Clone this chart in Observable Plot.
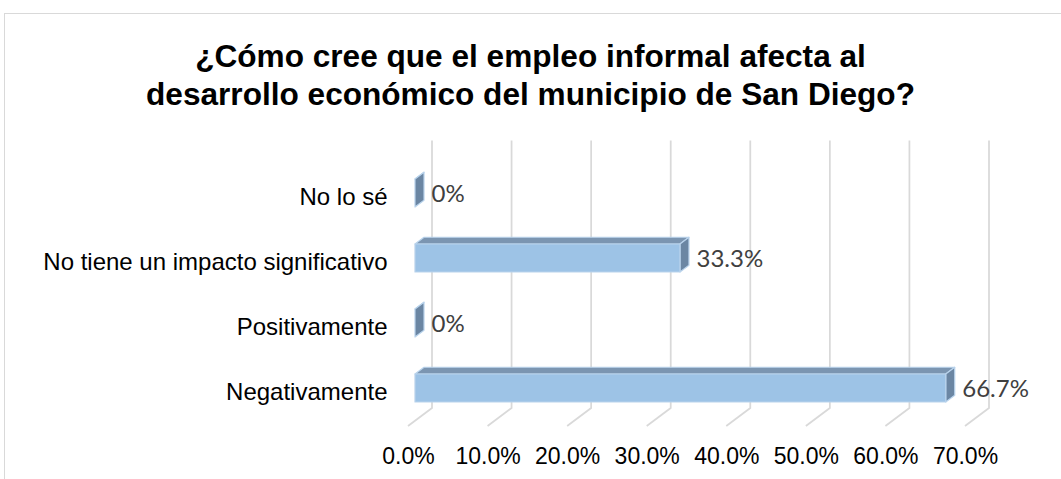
<!DOCTYPE html>
<html><head><meta charset="utf-8">
<script src="https://cdn.jsdelivr.net/npm/d3@7"></script>
<script src="https://cdn.jsdelivr.net/npm/@observablehq/plot@0.6"></script>
<style>
body{margin:0;background:#fff;width:1061px;height:479px;overflow:hidden;position:relative;font-family:"Liberation Sans",Arial,sans-serif}
#frame{position:absolute;left:4px;top:13px;width:1100px;height:500px;border-left:1.5px solid #d9d9d9;border-top:1.5px solid #d9d9d9}
#title{position:absolute;left:0;top:37px;width:1061px;text-align:center;font-weight:bold;font-size:31.6px;line-height:38px;color:#000}
#chart{position:absolute;left:0;top:120px}
</style></head><body>
<div id="frame"></div>
<div id="title">¿Cómo cree que el empleo informal afecta al<br>desarrollo económico del municipio de San Diego?</div>
<div id="chart"></div>
<script>
const categories = ["No lo sé", "No tiene un impacto significativo", "Positivamente", "Negativamente"];
const values = [0, 33.3, 0, 66.7];
const valueLabels = ["0%", "33.3%", "0%", "66.7%"];
const xTicks = [0, 10, 20, 30, 40, 50, 60, 70];
const xTickLabels = ["0.0%", "10.0%", "20.0%", "30.0%", "40.0%", "50.0%", "60.0%", "70.0%"];

const data = categories.map((c, i) => ({category: c, value: values[i], label: valueLabels[i]}));

// 3D styling constants (pixels)
const BAR_DX = 9, BAR_DY = 6.75;      // bar depth
const BACK_DX = 17, BACK_DY = 12.75;  // back wall offset from bar front plane
const FRONT_DX = 7, FRONT_DY = 5.25;  // floor front offset from bar front plane
const FLOOR_GAP = 6;                  // distance from lowest bar bottom to back floor line
const FRONT_FILL = "#9dc3e6", TOP_FILL = "#7b95b1", SIDE_FILL = "#6b86a3", EDGE = "#b9d3ec";
const GRID = "#d9d9d9";

function bandwidthOf(scales) {
  if (typeof scales.y.bandwidth === "number") return scales.y.bandwidth;
  if (typeof scales.y.bandwidth === "function") return scales.y.bandwidth();
  return scales.scales.y.bandwidth;
}

const grid = Plot.ruleX(xTicks, {
  x: d => d,
  render: (I, scales, values, dims) => {
    const g = d3.create("svg:g").attr("fill", "none").attr("stroke", GRID).attr("stroke-width", 1.75);
    const bw = bandwidthOf(scales);
    const lastBottom = scales.y(categories[categories.length - 1]) + bw;
    const floorBack = lastBottom + FLOOR_GAP;
    const floorFront = floorBack + BACK_DY + FRONT_DY;
    const yTop = dims.marginTop;
    for (const i of I) {
      const x = scales.x(xTicks[i]);
      g.append("path").attr("d", `M${x + BACK_DX},${yTop}L${x + BACK_DX},${floorBack}L${x - FRONT_DX},${floorFront}`);
    }
    return g.node();
  }
});

const bars = Plot.barX(data, {
  x: "value",
  y: "category",
  render: (I, scales, values, dims) => {
    const g = d3.create("svg:g").attr("stroke", EDGE).attr("stroke-width", 1.2).attr("stroke-linejoin", "round");
    const bw = bandwidthOf(scales);
    for (const i of I) {
      const d = data[i];
      const x1 = scales.x(0), x2 = scales.x(d.value), y = scales.y(d.category), h = bw;
      g.append("path").attr("fill", TOP_FILL)
        .attr("d", `M${x1},${y}L${x2},${y}L${x2 + BAR_DX},${y - BAR_DY}L${x1 + BAR_DX},${y - BAR_DY}Z`);
      g.append("path").attr("fill", SIDE_FILL)
        .attr("d", `M${x2},${y}L${x2 + BAR_DX},${y - BAR_DY}L${x2 + BAR_DX},${y + h - BAR_DY}L${x2},${y + h}Z`);
      if (x2 > x1) {
        g.append("rect").attr("fill", FRONT_FILL).attr("x", x1).attr("y", y).attr("width", x2 - x1).attr("height", h);
      }
    }
    return g.node();
  }
});

const chart = Plot.plot({
  width: 1061,
  height: 359,
  marginLeft: 415,
  marginRight: 89,
  marginTop: 20.6,
  marginBottom: 39.1,
  style: {fontFamily: "'Liberation Sans', Arial, sans-serif", fontSize: "23px", color: "#000", background: "transparent", overflow: "visible"},
  x: {domain: [0, 70]},
  y: {domain: categories, padding: 0.57},
  marks: [
    grid,
    bars,
    Plot.axisY({tickSize: 0, tickPadding: 28, dy: 4, fontSize: 24, fill: "#000", label: null}),
    Plot.axisX({ticks: xTicks, tickSize: 0, tickPadding: 7, dx: -FRONT_DX, fontSize: 23, fill: "#000", label: null,
      tickFormat: d => xTickLabels[xTicks.indexOf(d)]}),
    Plot.text(data, {x: "value", y: "category", text: "label", textAnchor: "start", dx: BAR_DX + 7, dy: 1,
      fontSize: 24, fontFamily: "Lato, 'Open Sans', sans-serif", fill: "#404040"})
  ]
});
document.getElementById("chart").appendChild(chart);
</script>
</body></html>
